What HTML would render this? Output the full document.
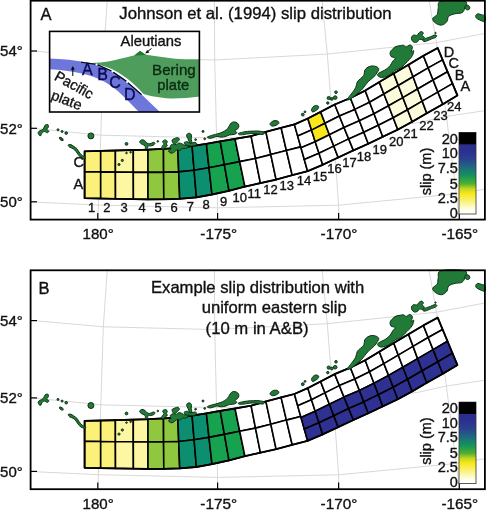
<!DOCTYPE html><html><head><meta charset="utf-8"><title>Slip distribution</title><style>html,body{margin:0;padding:0;background:#fff}svg{display:block}</style></head><body><svg width="486" height="512" viewBox="0 0 486 512" font-family="Liberation Sans, Arial, Helvetica, sans-serif"><defs><linearGradient id="cb" x1="0" y1="0" x2="0" y2="1"><stop offset="0.145" stop-color="#2a2d8c"/><stop offset="0.239" stop-color="#2b3190"/><stop offset="0.319" stop-color="#2c3e8e"/><stop offset="0.429" stop-color="#1f6a80"/><stop offset="0.529" stop-color="#15935a"/><stop offset="0.628" stop-color="#4fb030"/><stop offset="0.693" stop-color="#c8d820"/><stop offset="0.750" stop-color="#f7e818"/><stop offset="0.849" stop-color="#fbf280"/><stop offset="0.937" stop-color="#fffde0"/><stop offset="0.988" stop-color="#ffffff"/></linearGradient></defs><rect width="486" height="512" fill="#fff"/><g transform="translate(0,0)"><g id="grat" fill="none" stroke="#cecece" stroke-width="0.8" stroke-linejoin="round"><polyline points="30.5,50.7 103.3,57.2 214.7,60.0 327.3,54.1 436.5,42.6 486.0,33.2"/><polyline points="30.5,128.1 100.8,135.2 216.6,138.0 333.5,133.8 419.0,122.5 446.4,116.4 486.0,110.5"/><polyline points="30.5,201.9 98.4,205.1 217.5,207.8 338.6,205.2 456.3,193.8 486.0,189.0"/><polyline points="107.3,0.0 103.3,57.2 100.8,135.2 98.4,205.1 97.9,219.5"/><polyline points="214.4,0.0 214.7,60.0 216.6,138.0 217.5,207.8 217.6,219.5"/><polyline points="322.1,0.0 327.3,54.1 333.5,133.8 338.6,205.2 338.9,219.5"/><polyline points="429.0,0.0 436.5,42.6 446.4,116.4 456.3,193.8 459.4,219.5"/></g><polygon points="84.6,151.3 100.7,150.9 100.7,171.9 84.6,171.7" fill="#faf07a" stroke="#000" stroke-width="1.6" stroke-linejoin="round"/><polygon points="84.6,171.7 100.7,171.9 100.7,198.5 84.6,198.2" fill="#faf07a" stroke="#000" stroke-width="1.6" stroke-linejoin="round"/><polygon points="100.7,150.9 115.4,150.5 115.4,172.1 100.7,171.9" fill="#faf07a" stroke="#000" stroke-width="1.6" stroke-linejoin="round"/><polygon points="100.7,171.9 115.4,172.1 115.5,198.8 100.7,198.5" fill="#faf07a" stroke="#000" stroke-width="1.6" stroke-linejoin="round"/><polygon points="115.4,150.5 133.3,150.0 133.3,172.2 115.4,172.1" fill="#fdf6a2" stroke="#000" stroke-width="1.6" stroke-linejoin="round"/><polygon points="115.4,172.1 133.3,172.2 133.4,199.1 115.5,198.8" fill="#fdf6a2" stroke="#000" stroke-width="1.6" stroke-linejoin="round"/><polygon points="133.3,150.0 148.0,149.6 148.0,172.4 133.3,172.2" fill="#fdf6a2" stroke="#000" stroke-width="1.6" stroke-linejoin="round"/><polygon points="133.3,172.2 148.0,172.4 148.0,199.4 133.4,199.1" fill="#fdf6a2" stroke="#000" stroke-width="1.6" stroke-linejoin="round"/><polygon points="148.0,149.6 163.5,148.8 163.6,172.2 148.0,172.4" fill="#8fc73e" stroke="#000" stroke-width="1.6" stroke-linejoin="round"/><polygon points="148.0,172.4 163.6,172.2 163.8,199.3 148.0,199.4" fill="#8fc73e" stroke="#000" stroke-width="1.6" stroke-linejoin="round"/><polygon points="163.5,148.8 177.8,148.0 178.7,171.9 163.6,172.2" fill="#8fc73e" stroke="#000" stroke-width="1.6" stroke-linejoin="round"/><polygon points="163.6,172.2 178.7,171.9 179.7,198.8 163.8,199.3" fill="#8fc73e" stroke="#000" stroke-width="1.6" stroke-linejoin="round"/><polygon points="177.8,148.0 192.1,146.0 194.1,170.2 178.7,171.9" fill="#0c8f70" stroke="#000" stroke-width="1.6" stroke-linejoin="round"/><polygon points="178.7,171.9 194.1,170.2 196.4,197.4 179.7,198.8" fill="#0c8f70" stroke="#000" stroke-width="1.6" stroke-linejoin="round"/><polygon points="192.1,146.0 206.4,143.8 209.0,167.8 194.1,170.2" fill="#0c8f70" stroke="#000" stroke-width="1.6" stroke-linejoin="round"/><polygon points="194.1,170.2 209.0,167.8 212.0,194.5 196.4,197.4" fill="#0c8f70" stroke="#000" stroke-width="1.6" stroke-linejoin="round"/><polygon points="206.4,143.8 220.2,141.3 224.4,164.8 209.0,167.8" fill="#16a24e" stroke="#000" stroke-width="1.6" stroke-linejoin="round"/><polygon points="209.0,167.8 224.4,164.8 229.0,190.8 212.0,194.5" fill="#16a24e" stroke="#000" stroke-width="1.6" stroke-linejoin="round"/><polygon points="220.2,141.3 235.0,138.9 239.7,161.6 224.4,164.8" fill="#16a24e" stroke="#000" stroke-width="1.6" stroke-linejoin="round"/><polygon points="224.4,164.8 239.7,161.6 244.9,186.6 229.0,190.8" fill="#16a24e" stroke="#000" stroke-width="1.6" stroke-linejoin="round"/><polygon points="235.0,138.9 251.1,136.1 255.5,158.5 239.7,161.6" fill="#ffffff" stroke="#000" stroke-width="1.6" stroke-linejoin="round"/><polygon points="239.7,161.6 255.5,158.5 260.4,183.1 244.9,186.6" fill="#ffffff" stroke="#000" stroke-width="1.6" stroke-linejoin="round"/><polygon points="251.1,136.1 265.9,131.8 270.8,154.6 255.5,158.5" fill="#ffffff" stroke="#000" stroke-width="1.6" stroke-linejoin="round"/><polygon points="255.5,158.5 270.8,154.6 276.1,179.6 260.4,183.1" fill="#ffffff" stroke="#000" stroke-width="1.6" stroke-linejoin="round"/><polygon points="265.9,131.8 281.1,127.8 286.4,150.5 270.8,154.6" fill="#ffffff" stroke="#000" stroke-width="1.6" stroke-linejoin="round"/><polygon points="270.8,154.6 286.4,150.5 292.2,175.2 276.1,179.6" fill="#ffffff" stroke="#000" stroke-width="1.6" stroke-linejoin="round"/><polygon points="281.1,127.8 294.4,124.4 300.7,146.9 286.4,150.5" fill="#ffffff" stroke="#000" stroke-width="1.6" stroke-linejoin="round"/><polygon points="286.4,150.5 300.7,146.9 307.6,171.2 292.2,175.2" fill="#ffffff" stroke="#000" stroke-width="1.6" stroke-linejoin="round"/><polygon points="294.4,124.4 307.8,118.5 311.5,130.1 297.7,136.1" fill="#ffffff" stroke="#000" stroke-width="1.6" stroke-linejoin="round"/><polygon points="297.7,136.1 311.5,130.1 315.2,141.7 301.0,147.8" fill="#ffffff" stroke="#000" stroke-width="1.6" stroke-linejoin="round"/><polygon points="301.0,147.8 315.2,141.7 319.0,153.2 304.3,159.5" fill="#ffffff" stroke="#000" stroke-width="1.6" stroke-linejoin="round"/><polygon points="304.3,159.5 319.0,153.2 322.7,164.8 307.6,171.2" fill="#ffffff" stroke="#000" stroke-width="1.6" stroke-linejoin="round"/><polygon points="307.8,118.5 320.6,111.9 325.0,123.3 311.5,130.1" fill="#f8e71c" stroke="#000" stroke-width="1.6" stroke-linejoin="round"/><polygon points="311.5,130.1 325.0,123.3 329.4,134.7 315.2,141.7" fill="#f8e71c" stroke="#000" stroke-width="1.6" stroke-linejoin="round"/><polygon points="315.2,141.7 329.4,134.7 333.8,146.1 319.0,153.2" fill="#ffffff" stroke="#000" stroke-width="1.6" stroke-linejoin="round"/><polygon points="319.0,153.2 333.8,146.1 338.2,157.5 322.7,164.8" fill="#ffffff" stroke="#000" stroke-width="1.6" stroke-linejoin="round"/><polygon points="320.6,111.9 334.7,104.5 339.4,116.0 325.0,123.3" fill="#ffffff" stroke="#000" stroke-width="1.6" stroke-linejoin="round"/><polygon points="325.0,123.3 339.4,116.0 344.0,127.5 329.4,134.7" fill="#ffffff" stroke="#000" stroke-width="1.6" stroke-linejoin="round"/><polygon points="329.4,134.7 344.0,127.5 348.7,138.9 333.8,146.1" fill="#ffffff" stroke="#000" stroke-width="1.6" stroke-linejoin="round"/><polygon points="333.8,146.1 348.7,138.9 353.4,150.4 338.2,157.5" fill="#ffffff" stroke="#000" stroke-width="1.6" stroke-linejoin="round"/><polygon points="334.7,104.5 350.4,98.0 354.9,109.4 339.4,116.0" fill="#ffffff" stroke="#000" stroke-width="1.6" stroke-linejoin="round"/><polygon points="339.4,116.0 354.9,109.4 359.4,120.8 344.0,127.5" fill="#ffffff" stroke="#000" stroke-width="1.6" stroke-linejoin="round"/><polygon points="344.0,127.5 359.4,120.8 363.8,132.3 348.7,138.9" fill="#ffffff" stroke="#000" stroke-width="1.6" stroke-linejoin="round"/><polygon points="348.7,138.9 363.8,132.3 368.3,143.7 353.4,150.4" fill="#ffffff" stroke="#000" stroke-width="1.6" stroke-linejoin="round"/><polygon points="350.4,98.0 365.2,90.6 369.6,102.2 354.9,109.4" fill="#ffffff" stroke="#000" stroke-width="1.6" stroke-linejoin="round"/><polygon points="354.9,109.4 369.6,102.2 374.0,113.7 359.4,120.8" fill="#ffffff" stroke="#000" stroke-width="1.6" stroke-linejoin="round"/><polygon points="359.4,120.8 374.0,113.7 378.4,125.2 363.8,132.3" fill="#ffffff" stroke="#000" stroke-width="1.6" stroke-linejoin="round"/><polygon points="363.8,132.3 378.4,125.2 382.8,136.8 368.3,143.7" fill="#ffffff" stroke="#000" stroke-width="1.6" stroke-linejoin="round"/><polygon points="365.2,90.6 379.3,82.1 383.9,94.0 369.6,102.2" fill="#ffffff" stroke="#000" stroke-width="1.6" stroke-linejoin="round"/><polygon points="369.6,102.2 383.9,94.0 388.6,105.8 374.0,113.7" fill="#ffffff" stroke="#000" stroke-width="1.6" stroke-linejoin="round"/><polygon points="374.0,113.7 388.6,105.8 393.2,117.7 378.4,125.2" fill="#ffffff" stroke="#000" stroke-width="1.6" stroke-linejoin="round"/><polygon points="378.4,125.2 393.2,117.7 397.8,129.6 382.8,136.8" fill="#ffffff" stroke="#000" stroke-width="1.6" stroke-linejoin="round"/><polygon points="379.3,82.1 393.7,73.4 398.3,85.5 383.9,94.0" fill="#fcfbdc" stroke="#000" stroke-width="1.6" stroke-linejoin="round"/><polygon points="383.9,94.0 398.3,85.5 402.9,97.6 388.6,105.8" fill="#fcfbdc" stroke="#000" stroke-width="1.6" stroke-linejoin="round"/><polygon points="388.6,105.8 402.9,97.6 407.6,109.7 393.2,117.7" fill="#fcfbdc" stroke="#000" stroke-width="1.6" stroke-linejoin="round"/><polygon points="393.2,117.7 407.6,109.7 412.2,121.8 397.8,129.6" fill="#fcfbdc" stroke="#000" stroke-width="1.6" stroke-linejoin="round"/><polygon points="393.7,73.4 408.5,64.7 413.1,76.8 398.3,85.5" fill="#fcfbdc" stroke="#000" stroke-width="1.6" stroke-linejoin="round"/><polygon points="398.3,85.5 413.1,76.8 417.6,89.0 402.9,97.6" fill="#fcfbdc" stroke="#000" stroke-width="1.6" stroke-linejoin="round"/><polygon points="402.9,97.6 417.6,89.0 422.2,101.1 407.6,109.7" fill="#fcfbdc" stroke="#000" stroke-width="1.6" stroke-linejoin="round"/><polygon points="407.6,109.7 422.2,101.1 426.8,113.2 412.2,121.8" fill="#fcfbdc" stroke="#000" stroke-width="1.6" stroke-linejoin="round"/><polygon points="408.5,64.7 423.4,55.8 428.2,67.9 413.1,76.8" fill="#ffffff" stroke="#000" stroke-width="1.6" stroke-linejoin="round"/><polygon points="413.1,76.8 428.2,67.9 433.1,80.0 417.6,89.0" fill="#ffffff" stroke="#000" stroke-width="1.6" stroke-linejoin="round"/><polygon points="417.6,89.0 433.1,80.0 437.9,92.1 422.2,101.1" fill="#ffffff" stroke="#000" stroke-width="1.6" stroke-linejoin="round"/><polygon points="422.2,101.1 437.9,92.1 442.8,104.2 426.8,113.2" fill="#ffffff" stroke="#000" stroke-width="1.6" stroke-linejoin="round"/><polygon points="423.4,55.8 437.7,48.0 442.6,59.9 428.2,67.9" fill="#ffffff" stroke="#000" stroke-width="1.6" stroke-linejoin="round"/><polygon points="428.2,67.9 442.6,59.9 447.5,71.7 433.1,80.0" fill="#ffffff" stroke="#000" stroke-width="1.6" stroke-linejoin="round"/><polygon points="433.1,80.0 447.5,71.7 452.5,83.6 437.9,92.1" fill="#ffffff" stroke="#000" stroke-width="1.6" stroke-linejoin="round"/><polygon points="437.9,92.1 452.5,83.6 457.4,95.4 442.8,104.2" fill="#ffffff" stroke="#000" stroke-width="1.6" stroke-linejoin="round"/><polygon points="84.6,151.3 100.7,150.9 115.4,150.5 133.3,150.0 148.0,149.6 163.5,148.8 177.8,148.0 192.1,146.0 206.4,143.8 220.2,141.3 235.0,138.9 251.1,136.1 265.9,131.8 281.1,127.8 294.4,124.4 307.8,118.5 320.6,111.9 334.7,104.5 350.4,98.0 365.2,90.6 379.3,82.1 393.7,73.4 408.5,64.7 423.4,55.8 437.7,48.0 457.4,95.4 442.8,104.2 426.8,113.2 412.2,121.8 397.8,129.6 382.8,136.8 368.3,143.7 353.4,150.4 338.2,157.5 322.7,164.8 307.6,171.2 292.2,175.2 276.1,179.6 260.4,183.1 244.9,186.6 229.0,190.8 212.0,194.5 196.4,197.4 179.7,198.8 163.8,199.3 148.0,199.4 133.4,199.1 115.5,198.8 100.7,198.5 84.6,198.2" fill="none" stroke="#000" stroke-width="1.8" stroke-linejoin="round"/><g id="isl" fill="#217a37" stroke="#0d3316" stroke-width="1.0" stroke-linejoin="round"><path d="M38.2,132.3C38.4,131.5 39.4,131.2 40.2,130.6C41.0,130.1 42.3,129.9 43.2,129.0C44.0,128.1 44.4,125.9 45.1,125.2C45.9,124.5 47.2,124.3 47.8,124.5C48.3,124.8 48.6,126.0 48.4,126.9C48.3,127.7 46.7,128.8 46.8,129.5C46.9,130.2 48.8,130.6 48.9,131.1C49.0,131.7 48.0,132.7 47.3,132.8C46.5,132.8 45.4,131.4 44.5,131.5C43.6,131.5 42.5,132.4 41.9,133.1C41.2,133.8 41.3,135.2 40.9,135.6C40.4,135.9 39.5,135.6 39.1,135.1C38.6,134.5 38.0,133.0 38.2,132.3Z"/><path d="M68.2,145.0C68.4,144.5 69.8,144.4 70.8,144.6C71.8,144.9 73.1,145.9 74.1,146.6C75.1,147.3 76.1,147.8 76.9,148.7C77.7,149.7 78.2,150.9 79.1,152.0C79.9,153.1 80.8,154.4 81.9,155.3C82.9,156.2 85.2,156.9 85.6,157.5C86.1,158.0 85.4,158.6 84.7,158.6C83.9,158.6 82.1,158.2 81.0,157.5C79.9,156.8 78.9,155.5 78.1,154.5C77.2,153.5 76.6,152.2 75.8,151.2C74.9,150.3 74.2,149.4 73.1,148.7C72.1,148.1 70.3,147.7 69.5,147.1C68.7,146.5 68.0,145.4 68.2,145.0Z"/><path d="M139.7,141.4C139.9,140.8 141.0,140.0 141.8,139.9C142.6,139.7 143.8,140.0 144.6,140.5C145.5,141.0 145.9,142.4 146.7,143.0C147.6,143.5 148.7,143.9 149.8,143.8C150.9,143.7 152.7,142.4 153.5,142.3C154.4,142.3 155.0,142.9 155.0,143.3C155.0,143.8 154.3,144.6 153.5,145.1C152.8,145.5 151.3,145.9 150.4,146.0C149.6,146.2 148.8,145.4 148.3,145.8C147.8,146.2 147.8,148.0 147.3,148.5C146.9,149.0 145.9,149.2 145.5,148.8C145.1,148.4 145.6,146.7 145.1,146.0C144.7,145.3 143.4,145.0 142.7,144.6C141.9,144.1 141.0,143.9 140.6,143.3C140.1,142.8 139.5,141.9 139.7,141.4Z"/><path d="M162.8,141.1C163.1,140.7 164.5,139.8 165.2,139.9C166.0,139.9 167.1,140.7 167.3,141.4C167.6,142.0 166.5,143.1 166.5,143.8C166.5,144.6 167.6,145.2 167.3,145.8C167.1,146.4 165.9,146.7 165.2,147.3C164.6,147.8 164.3,148.9 163.6,149.1C163.0,149.3 161.7,149.0 161.5,148.5C161.3,148.0 162.0,146.8 162.4,146.0C162.8,145.3 163.9,144.8 164.0,144.2C164.1,143.6 163.4,143.1 163.1,142.6C162.9,142.1 162.4,141.6 162.8,141.1Z"/><path d="M172.0,140.1C172.3,139.3 173.8,138.8 174.8,138.4C175.7,138.0 177.2,137.4 178.0,137.7C178.7,137.9 179.5,139.0 179.4,139.6C179.4,140.3 178.2,141.1 177.6,141.7C177.0,142.4 176.5,143.3 175.7,143.6C175.0,143.8 173.9,143.9 173.3,143.3C172.7,142.8 171.8,140.9 172.0,140.1Z"/><path d="M170.2,146.0C170.5,145.2 171.6,144.4 172.7,144.2C173.7,144.0 175.3,144.8 176.4,144.6C177.4,144.4 177.9,143.1 178.8,143.0C179.8,142.8 180.9,143.4 181.9,143.8C182.9,144.2 184.2,145.3 185.0,145.4C185.8,145.6 186.3,144.4 186.9,144.6C187.4,144.8 188.3,146.0 188.1,146.7C187.9,147.3 186.5,148.2 185.6,148.5C184.7,148.8 183.5,148.2 182.5,148.5C181.6,148.8 181.0,150.2 180.1,150.4C179.1,150.6 177.9,149.5 177.0,149.8C176.1,150.0 175.6,151.0 174.8,151.6C173.9,152.2 172.9,153.1 172.0,153.2C171.2,153.4 170.1,152.9 169.6,152.5C169.0,152.1 168.4,151.3 168.6,150.7C168.8,150.2 170.5,149.9 170.8,149.1C171.1,148.4 169.9,146.9 170.2,146.0Z"/><path d="M186.6,135.9C186.5,135.2 186.9,134.4 187.3,134.0C187.8,133.5 188.5,133.2 189.1,133.2C189.7,133.2 190.4,133.5 190.8,134.0C191.2,134.4 191.5,135.0 191.5,135.9C191.6,136.8 191.1,138.1 191.2,139.3C191.3,140.4 192.2,142.2 192.0,143.0C191.9,143.7 190.6,144.1 190.1,143.8C189.6,143.6 189.4,142.3 189.1,141.4C188.7,140.5 188.3,139.3 187.8,138.4C187.4,137.5 186.7,136.7 186.6,135.9Z"/><path d="M184.4,142.3C184.8,141.9 186.4,141.6 187.5,141.7C188.5,141.9 189.3,143.2 190.6,143.3C191.8,143.4 194.0,142.3 195.0,142.3C196.0,142.4 196.7,143.3 196.7,143.8C196.7,144.3 195.9,145.1 195.0,145.4C194.1,145.8 192.4,146.0 191.2,146.0C189.9,146.0 188.5,145.7 187.5,145.4C186.4,145.2 185.5,145.1 185.0,144.6C184.5,144.1 184.0,142.8 184.4,142.3Z"/><path d="M207.2,137.2C207.4,136.7 209.9,136.0 211.3,135.5C212.6,135.0 213.9,134.8 215.4,134.4C216.9,134.0 218.8,133.6 220.3,133.0C221.8,132.5 223.2,131.8 224.4,131.1C225.7,130.3 226.9,129.3 227.7,128.4C228.6,127.5 228.8,126.6 229.4,125.6C230.0,124.7 230.5,123.5 231.4,122.8C232.2,122.2 233.3,121.8 234.3,121.9C235.4,121.9 236.8,122.5 237.6,123.2C238.4,123.9 238.9,125.2 238.9,126.1C238.9,127.1 238.2,128.2 237.6,128.9C237.0,129.7 235.3,129.9 235.1,130.6C235.0,131.2 236.9,132.1 236.8,132.7C236.7,133.3 235.6,134.0 234.3,134.4C233.1,134.7 230.8,134.7 229.4,135.0C228.0,135.3 227.5,136.0 226.1,136.3C224.7,136.7 222.7,137.2 221.2,137.2C219.6,137.2 218.4,136.3 217.0,136.3C215.7,136.4 214.2,137.3 212.9,137.7C211.7,138.0 210.6,138.4 209.6,138.3C208.7,138.2 206.9,137.6 207.2,137.2Z"/><path d="M238.4,133.4C239.0,133.0 241.0,132.6 242.6,132.2C244.1,131.9 245.7,131.6 247.5,131.4C249.3,131.2 251.3,131.1 253.3,131.1C255.2,131.0 257.2,130.9 259.0,131.1C260.8,131.3 263.3,131.7 264.0,132.2C264.6,132.8 264.2,134.1 263.1,134.4C262.0,134.6 259.1,134.0 257.4,133.9C255.6,133.7 254.2,133.3 252.4,133.4C250.6,133.4 248.3,133.8 246.7,134.0C245.0,134.3 243.8,134.6 242.6,134.7C241.3,134.8 239.9,134.9 239.3,134.7C238.6,134.5 237.9,133.8 238.4,133.4Z"/><path d="M270.0,124.3C269.9,123.5 271.0,122.3 271.9,121.7C272.7,121.0 274.0,120.6 275.0,120.6C276.0,120.5 277.5,120.8 278.1,121.3C278.8,121.8 279.1,122.8 278.7,123.5C278.3,124.2 277.0,124.9 275.9,125.4C274.8,125.8 273.2,126.3 272.2,126.1C271.2,125.9 270.1,125.0 270.0,124.3Z"/><path d="M311.5,110.0C311.5,109.2 312.3,107.6 313.0,106.9C313.7,106.1 314.8,105.5 315.7,105.4C316.7,105.3 318.1,105.7 318.5,106.3C318.9,106.9 318.7,107.9 318.1,108.7C317.6,109.5 316.1,110.4 315.2,110.9C314.3,111.5 313.2,112.0 312.6,111.9C312.0,111.7 311.4,110.8 311.5,110.0Z"/><path d="M347.4,100.0C347.8,100.3 350.0,99.3 351.5,98.4C353.0,97.4 354.8,95.6 356.5,94.3C358.1,92.9 360.0,91.5 361.4,90.1C362.8,88.8 363.5,87.5 364.7,86.0C365.9,84.5 367.3,82.6 368.8,81.1C370.3,79.6 372.3,78.5 373.7,77.0C375.2,75.5 376.7,73.4 377.5,72.0C378.4,70.7 378.9,69.7 378.7,68.7C378.5,67.8 377.3,67.1 376.2,66.6C375.1,66.1 373.5,65.9 372.1,65.9C370.7,66.0 369.2,66.4 368.0,67.1C366.7,67.8 365.4,69.0 364.7,70.4C364.0,71.8 364.6,74.0 363.9,75.3C363.2,76.7 361.7,77.5 360.6,78.6C359.5,79.7 358.1,80.4 357.3,81.9C356.5,83.4 356.5,85.9 355.6,87.7C354.8,89.5 353.4,91.1 352.3,92.6C351.2,94.1 349.9,95.5 349.1,96.7C348.2,98.0 347.0,99.7 347.4,100.0Z"/><path d="M377.5,75.3C377.9,76.0 379.6,77.3 381.2,77.5C382.7,77.6 385.3,76.8 386.9,76.2C388.6,75.5 389.5,74.7 391.0,73.7C392.5,72.6 394.3,70.9 396.0,69.9C397.6,68.9 399.4,68.9 400.9,67.9C402.4,66.9 403.6,65.2 405.0,63.8C406.4,62.4 407.9,61.1 409.1,59.7C410.4,58.3 411.7,57.1 412.4,55.6C413.2,54.1 414.0,51.2 413.7,50.6C413.5,50.0 411.3,52.5 411.1,52.0C410.9,51.4 412.6,48.5 412.4,47.3C412.2,46.2 411.0,45.0 410.0,44.9C408.9,44.8 407.3,46.8 406.2,46.9C405.1,46.9 404.4,45.4 403.4,45.2C402.4,45.0 401.3,45.5 400.1,45.7C398.8,45.9 397.2,46.0 396.0,46.5C394.7,47.1 393.6,48.0 392.7,49.0C391.7,50.0 390.5,51.0 390.2,52.3C389.9,53.5 390.2,55.4 391.0,56.4C391.9,57.4 394.9,57.2 395.1,58.0C395.4,58.9 393.5,60.1 392.7,61.3C391.9,62.6 391.2,64.2 390.2,65.5C389.2,66.7 388.3,67.7 386.9,68.7C385.5,69.8 383.3,70.8 382.0,71.5C380.6,72.3 379.4,72.6 378.7,73.2C377.9,73.8 377.1,74.6 377.5,75.3Z"/><path d="M432.7,18.6C432.4,20.0 433.9,21.9 435.4,23.0C436.9,24.1 439.7,25.4 441.6,25.1C443.5,24.9 445.7,23.1 446.9,21.6C448.1,20.1 447.3,17.6 448.7,16.3C450.0,15.0 452.7,14.4 454.9,13.8C457.1,13.2 460.3,13.7 461.9,12.7C463.6,11.8 464.3,9.9 464.8,8.0C465.3,6.0 468.7,2.2 464.8,1.1C460.8,-0.1 445.5,-0.2 441.1,1.1C436.6,2.3 438.9,6.3 438.2,8.5C437.6,10.7 438.1,12.8 437.2,14.5C436.3,16.2 433.0,17.2 432.7,18.6Z"/><path d="M465.1,6.4C465.4,5.7 466.5,5.0 467.3,5.0C468.0,5.0 469.0,5.7 469.4,6.4C469.8,7.0 470.0,8.3 469.7,8.8C469.4,9.4 468.3,9.9 467.6,9.9C466.9,9.9 465.9,9.4 465.5,8.8C465.1,8.3 464.8,7.0 465.1,6.4Z"/><path d="M475.8,15.6C476.0,14.9 476.9,13.9 477.9,13.8C478.9,13.7 480.6,14.5 481.8,14.9C482.9,15.2 484.4,14.8 485.0,15.9C485.5,17.1 485.5,20.8 485.0,21.6C484.4,22.4 482.9,21.3 481.8,20.9C480.6,20.5 478.8,19.6 477.9,19.1C476.9,18.6 476.5,18.3 476.1,17.7C475.8,17.1 475.5,16.2 475.8,15.6Z"/><path d="M411.5,37.2C411.8,36.3 412.9,35.3 413.8,35.0C414.7,34.7 415.9,35.8 416.8,35.4C417.7,35.0 418.3,33.4 419.1,32.7C419.9,32.1 420.9,31.4 421.6,31.5C422.3,31.6 423.3,32.6 423.4,33.3C423.5,33.9 421.9,34.7 422.1,35.4C422.3,36.1 424.3,36.8 424.4,37.5C424.5,38.3 423.5,39.5 422.7,39.8C421.8,40.1 420.3,39.0 419.5,39.3C418.6,39.6 418.5,41.1 417.7,41.6C416.9,42.1 415.5,42.7 414.5,42.5C413.6,42.3 412.5,41.2 412.0,40.4C411.5,39.5 411.2,38.1 411.5,37.2Z"/><path d="M423.0,39.8C423.5,39.2 425.3,38.6 426.5,38.1C427.8,37.6 429.1,37.3 430.4,36.8C431.8,36.3 433.5,35.2 434.5,35.0C435.6,34.9 436.7,35.3 436.8,35.8C437.0,36.2 436.3,37.0 435.4,37.5C434.5,38.1 432.8,38.4 431.5,38.9C430.2,39.5 428.7,40.3 427.4,40.7C426.2,41.2 424.6,41.7 423.9,41.6C423.2,41.4 422.6,40.4 423.0,39.8Z"/><circle cx="58.0" cy="129.8" r="1.0"/><circle cx="62.1" cy="131.5" r="1.0"/><circle cx="66.2" cy="133.1" r="1.3"/><circle cx="90.9" cy="135.9" r="3.0"/><circle cx="126.5" cy="143.9" r="1.4"/><circle cx="126.5" cy="153.0" r="0.8"/><circle cx="130.6" cy="152.2" r="0.8"/><circle cx="122.3" cy="160.4" r="1.1"/><circle cx="119.0" cy="164.5" r="1.1"/><circle cx="157.8" cy="141.4" r="0.8"/><circle cx="195.6" cy="139.6" r="0.9"/><circle cx="203.0" cy="131.4" r="1.0"/><circle cx="204.7" cy="138.8" r="0.9"/><circle cx="302.8" cy="114.6" r="1.4"/><circle cx="305.0" cy="111.8" r="0.9"/><circle cx="328.7" cy="98.0" r="1.6"/><circle cx="331.8" cy="98.9" r="1.4"/><circle cx="335.2" cy="97.6" r="1.8"/><circle cx="336.0" cy="92.2" r="1.3"/><circle cx="327.8" cy="103.0" r="1.2"/><circle cx="435.5" cy="33.0" r="0.7"/><ellipse cx="61.3" cy="138.9" rx="2.2" ry="1.0" transform="rotate(35 61.3 138.9)"/></g><rect x="30.6" y="0.7" width="454.3" height="218.9" fill="none" stroke="#000" stroke-width="1.8"/><path d="M30,51.0h7" stroke="#000" stroke-width="1.2"/><path d="M30,128.3h7" stroke="#000" stroke-width="1.2"/><path d="M30,201.8h7" stroke="#000" stroke-width="1.2"/><path d="M97.8,219.5v-6.5" stroke="#000" stroke-width="1.2"/><path d="M217.6,219.5v-6.5" stroke="#000" stroke-width="1.2"/><path d="M338.6,219.5v-6.5" stroke="#000" stroke-width="1.2"/><path d="M459.3,219.5v-6.5" stroke="#000" stroke-width="1.2"/><text x="22.8" y="56.3" font-size="15" text-anchor="end" fill="#111" stroke="#111" stroke-width="0.35" >54°</text><text x="22.8" y="133.6" font-size="15" text-anchor="end" fill="#111" stroke="#111" stroke-width="0.35" >52°</text><text x="22.8" y="207.1" font-size="15" text-anchor="end" fill="#111" stroke="#111" stroke-width="0.35" >50°</text><text x="82.6" y="239.2" font-size="15" text-anchor="start" fill="#111" stroke="#111" stroke-width="0.35" textLength="31.2" lengthAdjust="spacingAndGlyphs">180°</text><text x="200.3" y="239.2" font-size="15" text-anchor="start" fill="#111" stroke="#111" stroke-width="0.35" textLength="36.8" lengthAdjust="spacingAndGlyphs">-175°</text><text x="320.6" y="239.2" font-size="15" text-anchor="start" fill="#111" stroke="#111" stroke-width="0.35" textLength="36.8" lengthAdjust="spacingAndGlyphs">-170°</text><text x="441.4" y="239.2" font-size="15" text-anchor="start" fill="#111" stroke="#111" stroke-width="0.35" textLength="36.8" lengthAdjust="spacingAndGlyphs">-165°</text><rect x="459" y="132.5" width="17" height="81.5" fill="url(#cb)" stroke="#333" stroke-width="0.8"/><rect x="459" y="132.5" width="17" height="11.8" fill="#000"/><text x="457.8" y="143.5" font-size="14.5" text-anchor="end" fill="#111" stroke="#111" stroke-width="0.35" >20</text><text x="457.8" y="158.2" font-size="14.5" text-anchor="end" fill="#111" stroke="#111" stroke-width="0.35" >10</text><text x="457.8" y="172.9" font-size="14.5" text-anchor="end" fill="#111" stroke="#111" stroke-width="0.35" >7.5</text><text x="457.8" y="188.5" font-size="14.5" text-anchor="end" fill="#111" stroke="#111" stroke-width="0.35" >5</text><text x="457.8" y="202.6" font-size="14.5" text-anchor="end" fill="#111" stroke="#111" stroke-width="0.35" >2.5</text><text x="457.8" y="217.5" font-size="14.5" text-anchor="end" fill="#111" stroke="#111" stroke-width="0.35" >0</text><text x="0.0" y="0.0" font-size="14.5" text-anchor="middle" fill="#111" stroke="#111" stroke-width="0.35" transform="translate(431,171.5) rotate(-90)">slip (m)</text><text x="40.5" y="19.6" font-size="16.5" text-anchor="start" fill="#111" stroke="#111" stroke-width="0.35" >A</text><text x="91.5" y="212.0" font-size="13" text-anchor="middle" fill="#111" stroke="#111" stroke-width="0.35" >1</text><text x="106.9" y="212.0" font-size="13" text-anchor="middle" fill="#111" stroke="#111" stroke-width="0.35" >2</text><text x="124.0" y="212.0" font-size="13" text-anchor="middle" fill="#111" stroke="#111" stroke-width="0.35" >3</text><text x="142.2" y="212.0" font-size="13" text-anchor="middle" fill="#111" stroke="#111" stroke-width="0.35" >4</text><text x="158.0" y="212.0" font-size="13" text-anchor="middle" fill="#111" stroke="#111" stroke-width="0.35" >5</text><text x="174.0" y="212.0" font-size="13" text-anchor="middle" fill="#111" stroke="#111" stroke-width="0.35" >6</text><text x="190.4" y="210.6" font-size="13" text-anchor="middle" fill="#111" stroke="#111" stroke-width="0.35" >7</text><text x="206.1" y="208.9" font-size="13" text-anchor="middle" fill="#111" stroke="#111" stroke-width="0.35" >8</text><text x="223.6" y="205.7" font-size="13" text-anchor="middle" fill="#111" stroke="#111" stroke-width="0.35" >9</text><text x="239.8" y="201.5" font-size="13" text-anchor="middle" fill="#111" stroke="#111" stroke-width="0.35" >10</text><text x="254.2" y="197.6" font-size="13" text-anchor="middle" fill="#111" stroke="#111" stroke-width="0.35" >11</text><text x="270.4" y="193.6" font-size="13" text-anchor="middle" fill="#111" stroke="#111" stroke-width="0.35" >12</text><text x="286.7" y="189.5" font-size="13" text-anchor="middle" fill="#111" stroke="#111" stroke-width="0.35" >13</text><text x="304.0" y="184.5" font-size="13" text-anchor="middle" fill="#111" stroke="#111" stroke-width="0.35" >14</text><text x="320.0" y="181.4" font-size="13" text-anchor="middle" fill="#111" stroke="#111" stroke-width="0.35" >15</text><text x="334.6" y="173.1" font-size="13" text-anchor="middle" fill="#111" stroke="#111" stroke-width="0.35" >16</text><text x="349.6" y="167.4" font-size="13" text-anchor="middle" fill="#111" stroke="#111" stroke-width="0.35" >17</text><text x="364.0" y="160.6" font-size="13" text-anchor="middle" fill="#111" stroke="#111" stroke-width="0.35" >18</text><text x="379.8" y="154.2" font-size="13" text-anchor="middle" fill="#111" stroke="#111" stroke-width="0.35" >19</text><text x="396.2" y="146.4" font-size="13" text-anchor="middle" fill="#111" stroke="#111" stroke-width="0.35" >20</text><text x="410.6" y="138.2" font-size="13" text-anchor="middle" fill="#111" stroke="#111" stroke-width="0.35" >21</text><text x="426.6" y="130.0" font-size="13" text-anchor="middle" fill="#111" stroke="#111" stroke-width="0.35" >22</text><text x="440.6" y="120.1" font-size="13" text-anchor="middle" fill="#111" stroke="#111" stroke-width="0.35" >23</text><text x="454.3" y="110.9" font-size="13" text-anchor="middle" fill="#111" stroke="#111" stroke-width="0.35" >24</text><text x="78.8" y="166.8" font-size="14.5" text-anchor="middle" fill="#111" stroke="#111" stroke-width="0.35" >C</text><text x="78.3" y="188.8" font-size="14.5" text-anchor="middle" fill="#111" stroke="#111" stroke-width="0.35" >A</text><text x="449.0" y="57.2" font-size="14.5" text-anchor="middle" fill="#111" stroke="#111" stroke-width="0.35" >D</text><text x="453.8" y="68.0" font-size="14.5" text-anchor="middle" fill="#111" stroke="#111" stroke-width="0.35" >C</text><text x="459.6" y="80.3" font-size="14.5" text-anchor="middle" fill="#111" stroke="#111" stroke-width="0.35" >B</text><text x="465.3" y="90.9" font-size="14.5" text-anchor="middle" fill="#111" stroke="#111" stroke-width="0.35" >A</text><text x="119.3" y="19.3" font-size="16.5" text-anchor="start" fill="#111" stroke="#111" stroke-width="0.35" textLength="272.3" lengthAdjust="spacingAndGlyphs">Johnson et al. (1994) slip distribution</text><g><rect x="49.6" y="31.4" width="149.8" height="80.6" fill="#fff"/><clipPath id="ic"><rect x="49.6" y="31.4" width="149.8" height="80.6"/></clipPath><g clip-path="url(#ic)"><path d="M80,62.3 C90,63.5 100,63 108,61.5 C118,59.5 128,57 134,55.5 L140,51 L146,54.8 C155,55.8 165,57.8 175,58.8 C185,59.4 195,59.4 200,59.3 L200,96.4 C190,97.5 180,98.6 170,98.4 C160,98 150,96 143.5,94 C135,84 122,73 108,67.5 C98,64 88,62.8 80,62.3Z" fill="#4f9d5d"/><path d="M134.5,55.6 L140,50.8 L145.8,54.9 Z" fill="#1f7a35"/><path d="M49,58.4 C62,58.8 76,60.2 90,62.8 C104,65.6 116,72 128,82 C140,92 150,103 160.5,112.5 L139.5,112.5 C130,103 121,93 112,86.5 C102,79.5 92,76 82,73.6 C72,71.4 60,69.6 49,69.2Z" fill="#6d76da"/><path d="M81,62.2 L95.5,64.3 M97.5,64.8 L111.5,71 M113.3,72.2 L126.3,81.3 M128,82.8 L141.5,94.5" stroke="#000" stroke-width="1.1" fill="none"/><circle cx="96.5" cy="64.5" r="0.9" fill="#fff"/><circle cx="112.4" cy="71.6" r="0.9" fill="#fff"/><circle cx="127.2" cy="82.0" r="0.9" fill="#fff"/></g><rect x="49.6" y="31.4" width="149.8" height="80.6" fill="none" stroke="#000" stroke-width="1.6"/><text x="120.6" y="45.8" font-size="14.5" text-anchor="start" fill="#111" stroke="#111" stroke-width="0.35" textLength="60.8" lengthAdjust="spacingAndGlyphs">Aleutians</text><text x="152.1" y="74.7" font-size="14.5" text-anchor="start" fill="#0a2a10" stroke="#0a2a10" stroke-width="0.35" textLength="43.6" lengthAdjust="spacingAndGlyphs">Bering</text><text x="157.3" y="89.9" font-size="14.5" text-anchor="start" fill="#0a2a10" stroke="#0a2a10" stroke-width="0.35" textLength="32" lengthAdjust="spacingAndGlyphs">plate</text><text x="0.0" y="0.0" font-size="14.5" text-anchor="start" fill="#111" stroke="#111" stroke-width="0.35" textLength="41.6" lengthAdjust="spacingAndGlyphs" transform="translate(53.6,79.2) rotate(29)">Pacific</text><text x="0.0" y="0.0" font-size="14.5" text-anchor="start" fill="#111" stroke="#111" stroke-width="0.35" transform="translate(50.3,99) rotate(21)">plate</text><text x="87.3" y="75.1" font-size="16" text-anchor="middle" fill="#0a0a50" stroke="#0a0a50" stroke-width="0.35" >A</text><text x="102.5" y="79.9" font-size="16" text-anchor="middle" fill="#0a0a50" stroke="#0a0a50" stroke-width="0.35" >B</text><text x="115.1" y="88.2" font-size="16" text-anchor="middle" fill="#0a0a50" stroke="#0a0a50" stroke-width="0.35" >C</text><text x="129.8" y="100.3" font-size="16" text-anchor="middle" fill="#0a0a50" stroke="#0a0a50" stroke-width="0.35" >D</text><path d="M72.8,76 V68.5" stroke="#000" stroke-width="1"/><path d="M72.8,66 L70.9,69.8 L74.7,69.8Z" fill="#000"/><path d="M151.5,48.5 L147,52" stroke="#000" stroke-width="1"/><path d="M145.2,53.6 L149.3,52.6 L147.2,50Z" fill="#000"/></g></g><g transform="translate(0,269.6)"><use href="#grat"/><polygon points="84.6,151.3 100.7,150.9 100.7,171.9 84.6,171.7" fill="#faf07a" stroke="#000" stroke-width="1.6" stroke-linejoin="round"/><polygon points="84.6,171.7 100.7,171.9 100.7,198.5 84.6,198.2" fill="#faf07a" stroke="#000" stroke-width="1.6" stroke-linejoin="round"/><polygon points="100.7,150.9 115.4,150.5 115.4,172.1 100.7,171.9" fill="#faf07a" stroke="#000" stroke-width="1.6" stroke-linejoin="round"/><polygon points="100.7,171.9 115.4,172.1 115.5,198.8 100.7,198.5" fill="#faf07a" stroke="#000" stroke-width="1.6" stroke-linejoin="round"/><polygon points="115.4,150.5 133.3,150.0 133.3,172.2 115.4,172.1" fill="#fdf6a2" stroke="#000" stroke-width="1.6" stroke-linejoin="round"/><polygon points="115.4,172.1 133.3,172.2 133.4,199.1 115.5,198.8" fill="#fdf6a2" stroke="#000" stroke-width="1.6" stroke-linejoin="round"/><polygon points="133.3,150.0 148.0,149.6 148.0,172.4 133.3,172.2" fill="#fdf6a2" stroke="#000" stroke-width="1.6" stroke-linejoin="round"/><polygon points="133.3,172.2 148.0,172.4 148.0,199.4 133.4,199.1" fill="#fdf6a2" stroke="#000" stroke-width="1.6" stroke-linejoin="round"/><polygon points="148.0,149.6 163.5,148.8 163.6,172.2 148.0,172.4" fill="#8fc73e" stroke="#000" stroke-width="1.6" stroke-linejoin="round"/><polygon points="148.0,172.4 163.6,172.2 163.8,199.3 148.0,199.4" fill="#8fc73e" stroke="#000" stroke-width="1.6" stroke-linejoin="round"/><polygon points="163.5,148.8 177.8,148.0 178.7,171.9 163.6,172.2" fill="#8fc73e" stroke="#000" stroke-width="1.6" stroke-linejoin="round"/><polygon points="163.6,172.2 178.7,171.9 179.7,198.8 163.8,199.3" fill="#8fc73e" stroke="#000" stroke-width="1.6" stroke-linejoin="round"/><polygon points="177.8,148.0 192.1,146.0 194.1,170.2 178.7,171.9" fill="#0c8f70" stroke="#000" stroke-width="1.6" stroke-linejoin="round"/><polygon points="178.7,171.9 194.1,170.2 196.4,197.4 179.7,198.8" fill="#0c8f70" stroke="#000" stroke-width="1.6" stroke-linejoin="round"/><polygon points="192.1,146.0 206.4,143.8 209.0,167.8 194.1,170.2" fill="#0c8f70" stroke="#000" stroke-width="1.6" stroke-linejoin="round"/><polygon points="194.1,170.2 209.0,167.8 212.0,194.5 196.4,197.4" fill="#0c8f70" stroke="#000" stroke-width="1.6" stroke-linejoin="round"/><polygon points="206.4,143.8 220.2,141.3 224.4,164.8 209.0,167.8" fill="#16a24e" stroke="#000" stroke-width="1.6" stroke-linejoin="round"/><polygon points="209.0,167.8 224.4,164.8 229.0,190.8 212.0,194.5" fill="#16a24e" stroke="#000" stroke-width="1.6" stroke-linejoin="round"/><polygon points="220.2,141.3 235.0,138.9 239.7,161.6 224.4,164.8" fill="#16a24e" stroke="#000" stroke-width="1.6" stroke-linejoin="round"/><polygon points="224.4,164.8 239.7,161.6 244.9,186.6 229.0,190.8" fill="#16a24e" stroke="#000" stroke-width="1.6" stroke-linejoin="round"/><polygon points="235.0,138.9 251.1,136.1 255.5,158.5 239.7,161.6" fill="#ffffff" stroke="#000" stroke-width="1.6" stroke-linejoin="round"/><polygon points="239.7,161.6 255.5,158.5 260.4,183.1 244.9,186.6" fill="#ffffff" stroke="#000" stroke-width="1.6" stroke-linejoin="round"/><polygon points="251.1,136.1 265.9,131.8 270.8,154.6 255.5,158.5" fill="#ffffff" stroke="#000" stroke-width="1.6" stroke-linejoin="round"/><polygon points="255.5,158.5 270.8,154.6 276.1,179.6 260.4,183.1" fill="#ffffff" stroke="#000" stroke-width="1.6" stroke-linejoin="round"/><polygon points="265.9,131.8 281.1,127.8 286.4,150.5 270.8,154.6" fill="#ffffff" stroke="#000" stroke-width="1.6" stroke-linejoin="round"/><polygon points="270.8,154.6 286.4,150.5 292.2,175.2 276.1,179.6" fill="#ffffff" stroke="#000" stroke-width="1.6" stroke-linejoin="round"/><polygon points="281.1,127.8 294.4,124.4 300.7,146.9 286.4,150.5" fill="#ffffff" stroke="#000" stroke-width="1.6" stroke-linejoin="round"/><polygon points="286.4,150.5 300.7,146.9 307.6,171.2 292.2,175.2" fill="#ffffff" stroke="#000" stroke-width="1.6" stroke-linejoin="round"/><polygon points="294.4,124.4 307.8,118.5 311.5,130.1 297.7,136.1" fill="#ffffff" stroke="#000" stroke-width="1.6" stroke-linejoin="round"/><polygon points="297.7,136.1 311.5,130.1 315.2,141.7 301.0,147.8" fill="#ffffff" stroke="#000" stroke-width="1.6" stroke-linejoin="round"/><polygon points="301.0,147.8 315.2,141.7 319.0,153.2 304.3,159.5" fill="#2e3192" stroke="#000" stroke-width="1.6" stroke-linejoin="round"/><polygon points="304.3,159.5 319.0,153.2 322.7,164.8 307.6,171.2" fill="#2e3192" stroke="#000" stroke-width="1.6" stroke-linejoin="round"/><polygon points="307.8,118.5 320.6,111.9 325.0,123.3 311.5,130.1" fill="#ffffff" stroke="#000" stroke-width="1.6" stroke-linejoin="round"/><polygon points="311.5,130.1 325.0,123.3 329.4,134.7 315.2,141.7" fill="#ffffff" stroke="#000" stroke-width="1.6" stroke-linejoin="round"/><polygon points="315.2,141.7 329.4,134.7 333.8,146.1 319.0,153.2" fill="#2e3192" stroke="#000" stroke-width="1.6" stroke-linejoin="round"/><polygon points="319.0,153.2 333.8,146.1 338.2,157.5 322.7,164.8" fill="#2e3192" stroke="#000" stroke-width="1.6" stroke-linejoin="round"/><polygon points="320.6,111.9 334.7,104.5 339.4,116.0 325.0,123.3" fill="#ffffff" stroke="#000" stroke-width="1.6" stroke-linejoin="round"/><polygon points="325.0,123.3 339.4,116.0 344.0,127.5 329.4,134.7" fill="#ffffff" stroke="#000" stroke-width="1.6" stroke-linejoin="round"/><polygon points="329.4,134.7 344.0,127.5 348.7,138.9 333.8,146.1" fill="#2e3192" stroke="#000" stroke-width="1.6" stroke-linejoin="round"/><polygon points="333.8,146.1 348.7,138.9 353.4,150.4 338.2,157.5" fill="#2e3192" stroke="#000" stroke-width="1.6" stroke-linejoin="round"/><polygon points="334.7,104.5 350.4,98.0 354.9,109.4 339.4,116.0" fill="#ffffff" stroke="#000" stroke-width="1.6" stroke-linejoin="round"/><polygon points="339.4,116.0 354.9,109.4 359.4,120.8 344.0,127.5" fill="#ffffff" stroke="#000" stroke-width="1.6" stroke-linejoin="round"/><polygon points="344.0,127.5 359.4,120.8 363.8,132.3 348.7,138.9" fill="#2e3192" stroke="#000" stroke-width="1.6" stroke-linejoin="round"/><polygon points="348.7,138.9 363.8,132.3 368.3,143.7 353.4,150.4" fill="#2e3192" stroke="#000" stroke-width="1.6" stroke-linejoin="round"/><polygon points="350.4,98.0 365.2,90.6 369.6,102.2 354.9,109.4" fill="#ffffff" stroke="#000" stroke-width="1.6" stroke-linejoin="round"/><polygon points="354.9,109.4 369.6,102.2 374.0,113.7 359.4,120.8" fill="#ffffff" stroke="#000" stroke-width="1.6" stroke-linejoin="round"/><polygon points="359.4,120.8 374.0,113.7 378.4,125.2 363.8,132.3" fill="#2e3192" stroke="#000" stroke-width="1.6" stroke-linejoin="round"/><polygon points="363.8,132.3 378.4,125.2 382.8,136.8 368.3,143.7" fill="#2e3192" stroke="#000" stroke-width="1.6" stroke-linejoin="round"/><polygon points="365.2,90.6 379.3,82.1 383.9,94.0 369.6,102.2" fill="#ffffff" stroke="#000" stroke-width="1.6" stroke-linejoin="round"/><polygon points="369.6,102.2 383.9,94.0 388.6,105.8 374.0,113.7" fill="#ffffff" stroke="#000" stroke-width="1.6" stroke-linejoin="round"/><polygon points="374.0,113.7 388.6,105.8 393.2,117.7 378.4,125.2" fill="#2e3192" stroke="#000" stroke-width="1.6" stroke-linejoin="round"/><polygon points="378.4,125.2 393.2,117.7 397.8,129.6 382.8,136.8" fill="#2e3192" stroke="#000" stroke-width="1.6" stroke-linejoin="round"/><polygon points="379.3,82.1 393.7,73.4 398.3,85.5 383.9,94.0" fill="#ffffff" stroke="#000" stroke-width="1.6" stroke-linejoin="round"/><polygon points="383.9,94.0 398.3,85.5 402.9,97.6 388.6,105.8" fill="#ffffff" stroke="#000" stroke-width="1.6" stroke-linejoin="round"/><polygon points="388.6,105.8 402.9,97.6 407.6,109.7 393.2,117.7" fill="#2e3192" stroke="#000" stroke-width="1.6" stroke-linejoin="round"/><polygon points="393.2,117.7 407.6,109.7 412.2,121.8 397.8,129.6" fill="#2e3192" stroke="#000" stroke-width="1.6" stroke-linejoin="round"/><polygon points="393.7,73.4 408.5,64.7 413.1,76.8 398.3,85.5" fill="#ffffff" stroke="#000" stroke-width="1.6" stroke-linejoin="round"/><polygon points="398.3,85.5 413.1,76.8 417.6,89.0 402.9,97.6" fill="#ffffff" stroke="#000" stroke-width="1.6" stroke-linejoin="round"/><polygon points="402.9,97.6 417.6,89.0 422.2,101.1 407.6,109.7" fill="#2e3192" stroke="#000" stroke-width="1.6" stroke-linejoin="round"/><polygon points="407.6,109.7 422.2,101.1 426.8,113.2 412.2,121.8" fill="#2e3192" stroke="#000" stroke-width="1.6" stroke-linejoin="round"/><polygon points="408.5,64.7 423.4,55.8 428.2,67.9 413.1,76.8" fill="#ffffff" stroke="#000" stroke-width="1.6" stroke-linejoin="round"/><polygon points="413.1,76.8 428.2,67.9 433.1,80.0 417.6,89.0" fill="#ffffff" stroke="#000" stroke-width="1.6" stroke-linejoin="round"/><polygon points="417.6,89.0 433.1,80.0 437.9,92.1 422.2,101.1" fill="#2e3192" stroke="#000" stroke-width="1.6" stroke-linejoin="round"/><polygon points="422.2,101.1 437.9,92.1 442.8,104.2 426.8,113.2" fill="#2e3192" stroke="#000" stroke-width="1.6" stroke-linejoin="round"/><polygon points="423.4,55.8 437.7,48.0 442.6,59.9 428.2,67.9" fill="#ffffff" stroke="#000" stroke-width="1.6" stroke-linejoin="round"/><polygon points="428.2,67.9 442.6,59.9 447.5,71.7 433.1,80.0" fill="#ffffff" stroke="#000" stroke-width="1.6" stroke-linejoin="round"/><polygon points="433.1,80.0 447.5,71.7 452.5,83.6 437.9,92.1" fill="#2e3192" stroke="#000" stroke-width="1.6" stroke-linejoin="round"/><polygon points="437.9,92.1 452.5,83.6 457.4,95.4 442.8,104.2" fill="#2e3192" stroke="#000" stroke-width="1.6" stroke-linejoin="round"/><polygon points="84.6,151.3 100.7,150.9 115.4,150.5 133.3,150.0 148.0,149.6 163.5,148.8 177.8,148.0 192.1,146.0 206.4,143.8 220.2,141.3 235.0,138.9 251.1,136.1 265.9,131.8 281.1,127.8 294.4,124.4 307.8,118.5 320.6,111.9 334.7,104.5 350.4,98.0 365.2,90.6 379.3,82.1 393.7,73.4 408.5,64.7 423.4,55.8 437.7,48.0 457.4,95.4 442.8,104.2 426.8,113.2 412.2,121.8 397.8,129.6 382.8,136.8 368.3,143.7 353.4,150.4 338.2,157.5 322.7,164.8 307.6,171.2 292.2,175.2 276.1,179.6 260.4,183.1 244.9,186.6 229.0,190.8 212.0,194.5 196.4,197.4 179.7,198.8 163.8,199.3 148.0,199.4 133.4,199.1 115.5,198.8 100.7,198.5 84.6,198.2" fill="none" stroke="#000" stroke-width="1.8" stroke-linejoin="round"/><use href="#isl"/><rect x="30.6" y="0.7" width="454.3" height="218.9" fill="none" stroke="#000" stroke-width="1.8"/><path d="M30,51.0h7" stroke="#000" stroke-width="1.2"/><path d="M30,128.3h7" stroke="#000" stroke-width="1.2"/><path d="M30,201.8h7" stroke="#000" stroke-width="1.2"/><path d="M97.8,219.5v-6.5" stroke="#000" stroke-width="1.2"/><path d="M217.6,219.5v-6.5" stroke="#000" stroke-width="1.2"/><path d="M338.6,219.5v-6.5" stroke="#000" stroke-width="1.2"/><path d="M459.3,219.5v-6.5" stroke="#000" stroke-width="1.2"/><text x="22.8" y="56.3" font-size="15" text-anchor="end" fill="#111" stroke="#111" stroke-width="0.35" >54°</text><text x="22.8" y="133.6" font-size="15" text-anchor="end" fill="#111" stroke="#111" stroke-width="0.35" >52°</text><text x="22.8" y="207.1" font-size="15" text-anchor="end" fill="#111" stroke="#111" stroke-width="0.35" >50°</text><text x="82.6" y="239.2" font-size="15" text-anchor="start" fill="#111" stroke="#111" stroke-width="0.35" textLength="31.2" lengthAdjust="spacingAndGlyphs">180°</text><text x="200.3" y="239.2" font-size="15" text-anchor="start" fill="#111" stroke="#111" stroke-width="0.35" textLength="36.8" lengthAdjust="spacingAndGlyphs">-175°</text><text x="320.6" y="239.2" font-size="15" text-anchor="start" fill="#111" stroke="#111" stroke-width="0.35" textLength="36.8" lengthAdjust="spacingAndGlyphs">-170°</text><text x="441.4" y="239.2" font-size="15" text-anchor="start" fill="#111" stroke="#111" stroke-width="0.35" textLength="36.8" lengthAdjust="spacingAndGlyphs">-165°</text><rect x="459" y="132.5" width="17" height="81.5" fill="url(#cb)" stroke="#333" stroke-width="0.8"/><rect x="459" y="132.5" width="17" height="11.8" fill="#000"/><text x="457.8" y="143.5" font-size="14.5" text-anchor="end" fill="#111" stroke="#111" stroke-width="0.35" >20</text><text x="457.8" y="158.2" font-size="14.5" text-anchor="end" fill="#111" stroke="#111" stroke-width="0.35" >10</text><text x="457.8" y="172.9" font-size="14.5" text-anchor="end" fill="#111" stroke="#111" stroke-width="0.35" >7.5</text><text x="457.8" y="188.5" font-size="14.5" text-anchor="end" fill="#111" stroke="#111" stroke-width="0.35" >5</text><text x="457.8" y="202.6" font-size="14.5" text-anchor="end" fill="#111" stroke="#111" stroke-width="0.35" >2.5</text><text x="457.8" y="217.5" font-size="14.5" text-anchor="end" fill="#111" stroke="#111" stroke-width="0.35" >0</text><text x="0.0" y="0.0" font-size="14.5" text-anchor="middle" fill="#111" stroke="#111" stroke-width="0.35" transform="translate(431,171.5) rotate(-90)">slip (m)</text><text x="38.4" y="24.4" font-size="16.5" text-anchor="start" fill="#111" stroke="#111" stroke-width="0.35" >B</text><text x="151.0" y="23.3" font-size="16.5" text-anchor="start" fill="#111" stroke="#111" stroke-width="0.35" textLength="213.2" lengthAdjust="spacingAndGlyphs">Example slip distribution with</text><text x="201.7" y="43.8" font-size="16.5" text-anchor="start" fill="#111" stroke="#111" stroke-width="0.35" textLength="145" lengthAdjust="spacingAndGlyphs">uniform eastern slip</text><text x="205.6" y="64.3" font-size="16.5" text-anchor="start" fill="#111" stroke="#111" stroke-width="0.35" textLength="103" lengthAdjust="spacingAndGlyphs">(10 m in A&amp;B)</text></g></svg></body></html>
